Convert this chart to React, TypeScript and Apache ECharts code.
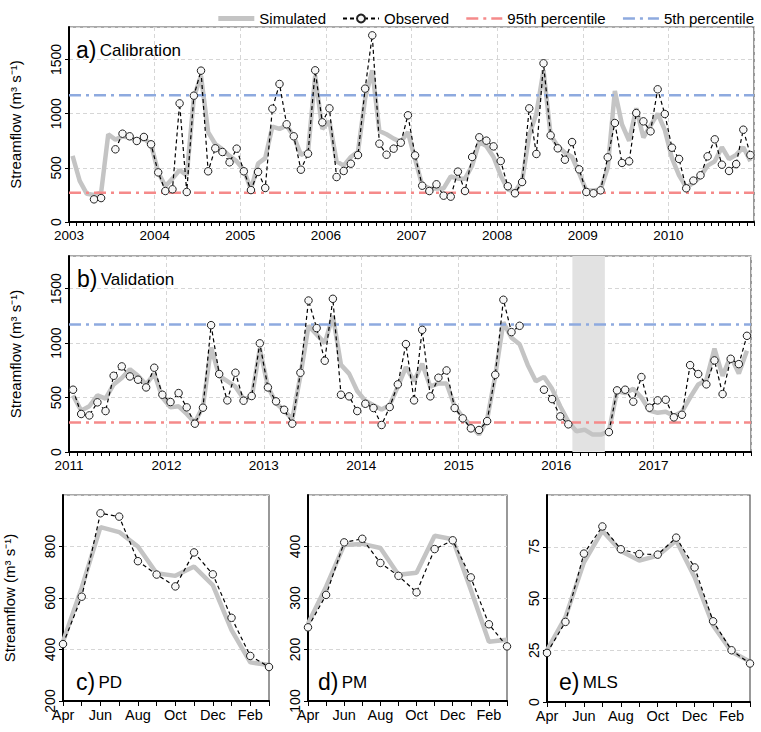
import React, { useEffect, useRef } from "react";
import * as echarts from "echarts";

// ---------- data ----------
const CAL_START_YEAR = 2003;
const VAL_START_YEAR = 2011;

const calObserved: (number | null)[] = [
  null, null, null, 209, 221, null, 671, 815, 791, 748, 785, 717,
  458, 286, 302, 1095, 277, 1166, 1397, 468, 680, 646, 551, 677,
  468, 295, 462, 314, 1046, 1274, 902, 791, 483, 631, 1400, 920,
  1049, 415, 471, 538, 618, 1231, 1723, 723, 621, 677, 732, 985,
  615, 335, 286, 348, 243, 234, 465, 286, 600, 782, 751, 698,
  563, 330, 265, 369, 1049, 628, 1465, 800, 680, 575, 738, 486,
  277, 265, 292, 597, 914, 545, 560, 1006, 929, 837, 1225, 997,
  686, 582, 311, 382, 431, 606, 763, 529, 471, 535, 852, 618,
];
const calSimulated: number[] = [
  610, 380, 260, 250, 270, 810, 760, 790, 780, 755, 770, 715,
  460, 330, 400, 480, 430, 1150, 1350, 830, 720, 670, 610, 560,
  480, 300, 540, 590, 880, 860, 890, 790, 620, 650, 1350, 860,
  930, 560, 520, 600, 650, 1140, 1400, 840, 810, 770, 740, 830,
  580, 340, 310, 310, 310, 420, 400, 400, 520, 740, 700, 600,
  430, 300, 280, 380, 800, 1000, 1400, 800, 700, 640, 600, 450,
  290, 290, 300, 500, 1210, 900, 750, 1050, 780, 890, 1000, 850,
  590, 430, 320, 360, 420, 520, 560, 690, 580, 620, 690, 560,
];
const valObserved: (number | null)[] = [
  572, 349, 336, 456, 376, 700, 786, 694, 664, 593, 774, 526,
  459, 541, 410, 260, 407, 1165, 716, 474, 728, 471, 514, 998,
  593, 465, 388, 260, 728, 1391, 1138, 838, 1407, 526, 511, 376,
  443, 404, 248, 413, 621, 991, 474, 1122, 511, 682, 749, 404,
  309, 217, 202, 284, 709, 1398, 1101, 1159, null, null, 572, 486,
  327, 254, null, null, null, null, 183, 566, 572, 462, 688, 407,
  474, 480, 318, 342, 798, 716, 621, 841, 532, 856, 807, 1067,
];
const valSimulated: number[] = [
  520, 380, 420, 520, 490, 620, 680, 760, 700, 620, 720, 500,
  410, 420, 350, 270, 420, 960, 700, 650, 600, 490, 500, 950,
  600, 450, 380, 300, 700, 1160, 1080, 1000, 1250, 800, 720, 560,
  470, 430, 390, 430, 600, 780, 650, 810, 600, 630, 630, 420,
  320, 240, 160, 300, 700, 1190, 1050, 990, 800, 650, 690, 580,
  420, 280, 190, 205, 160, 160, 190, 560, 540, 580, 500, 380,
  360, 370, 330, 370, 500, 620, 660, 950, 700, 880, 720, 930,
];
const P95 = 270;
const P5 = 1170;
const GAP_START_MONTH = 62; // Mar 2016
const GAP_END_MONTH = 66; // Jul 2016

const seasonMonths = ["Apr", "May", "Jun", "Jul", "Aug", "Sep", "Oct", "Nov", "Dec", "Jan", "Feb", "Mar"];
const pdObserved = [421, 605, 929, 916, 743, 691, 645, 777, 692, 523, 375, 332];
const pdSimulated = [430, 640, 875, 856, 800, 696, 686, 722, 650, 475, 350, 340];
const pmObserved = [243, 306, 408, 415, 368, 343, 311, 395, 412, 340, 249, 206];
const pmSimulated = [250, 322, 403, 405, 397, 345, 349, 421, 414, 316, 215, 219];
const mlsObserved = [23.7, 38.7, 71.7, 84.8, 73.8, 71.5, 71.2, 79.4, 65, 39, 25, 18.6];
const mlsSimulated = [25, 41, 67.5, 82.7, 73, 68.3, 70.7, 78, 60.3, 37, 24.3, 19.5];

// ---------- styles ----------
const FONT = "'Liberation Sans', Arial, Helvetica, sans-serif";
const SIM_COLOR = "#c4c4c4";
const RED = "#f58a8a";
const BLUE = "#8eaadf";
const GRID_LINE = { lineStyle: { color: "#d6d6d6", type: [4, 3] as any, width: 1 } };
const AXIS_LINE = { show: true, onZero: false, lineStyle: { color: "#000", width: 2 } };
const TICK_LABEL = { color: "#000", fontSize: 13.5, fontFamily: FONT };
const YNAME = "Streamflow (m³ s⁻¹)";

const monthly = (arr: (number | null)[]) =>
  arr.map((v, i) => [i + 0.5, v === null ? "-" : v]);

function yAxis(gridIndex: number, min: number, max: number, interval: number, withName: boolean) {
  return {
    type: "value",
    gridIndex,
    min,
    max,
    interval,
    axisLine: AXIS_LINE,
    axisTick: { show: true, length: 4, lineStyle: { color: "#000", width: 1 } },
    axisLabel: {
      ...TICK_LABEL,
      fontSize: 14,
      rotate: 90,
      margin: 6,
      showMaxLabel: false,
      formatter: (v: number) => String(v),
    },
    splitLine: { show: true, ...GRID_LINE },
    name: withName ? YNAME : "",
    nameLocation: "middle",
    nameGap: 46,
    nameTextStyle: { color: "#000", fontSize: 15, fontFamily: FONT },
  };
}

function yearAxis(gridIndex: number, startYear: number, nMonths: number) {
  return {
    type: "value",
    gridIndex,
    min: 0,
    max: nMonths,
    interval: 12,
    axisLine: AXIS_LINE,
    axisTick: { show: true, length: 4, lineStyle: { color: "#000", width: 1 } },
    minorTick: { show: true, splitNumber: 12, length: 4, lineStyle: { color: "#000", width: 1 } },
    axisLabel: {
      ...TICK_LABEL,
      margin: 6,
      showMaxLabel: false,
      formatter: (v: number) => String(startYear + Math.round(v / 12)),
    },
    splitLine: { show: true, ...GRID_LINE },
  };
}

function seasonAxis(gridIndex: number) {
  return {
    type: "category",
    gridIndex,
    data: seasonMonths,
    boundaryGap: false,
    axisLine: AXIS_LINE,
    axisTick: { show: true, interval: 0, length: 5, lineStyle: { color: "#000", width: 1 } },
    axisLabel: { ...TICK_LABEL, fontSize: 14.5, interval: 1, margin: 6 },
    splitLine: { show: false },
  };
}

function simSeries(name: string, idx: number, data: any[]) {
  return {
    name,
    type: "line",
    xAxisIndex: idx,
    yAxisIndex: idx,
    data,
    symbol: "none",
    z: 2,
    lineStyle: { color: SIM_COLOR, width: 4.5 },
    itemStyle: { color: SIM_COLOR },
  };
}

function obsSeries(idx: number, data: any[]) {
  return {
    name: "Observed",
    type: "line",
    xAxisIndex: idx,
    yAxisIndex: idx,
    data,
    connectNulls: false,
    symbol: "circle",
    symbolSize: 7.5,
    z: 5,
    lineStyle: { color: "#000", width: 1.2, type: [4, 3] },
    itemStyle: { color: "#f7f7f7", borderColor: "#222", borderWidth: 1 },
  };
}

function pctSeries(name: string, idx: number, value: number, nMonths: number, color: string) {
  return {
    name,
    type: "line",
    xAxisIndex: idx,
    yAxisIndex: idx,
    data: [
      [0, value],
      [nMonths, value],
    ],
    symbol: "none",
    z: 3,
    lineStyle: { color, width: 2.5, type: [12, 5, 3, 5] },
    itemStyle: { color },
  };
}

function panelLabel(x: number, y: number, letter: string, title: string) {
  return {
    type: "text",
    x,
    y,
    z: 10,
    style: {
      text: `{a|${letter})} {b|${title}}`,
      verticalAlign: "middle",
      rich: {
        a: { fontSize: 23, fontFamily: FONT, fill: "#000" },
        b: { fontSize: 17, fontFamily: FONT, fill: "#000" },
      },
    },
  };
}

const hiddenSymbol = { opacity: 0, color: "transparent", borderWidth: 0 };

export default function App() {
  const ref = useRef<HTMLDivElement>(null);
  useEffect(() => {
    if (!ref.current) return;
    const chart = echarts.init(ref.current, undefined, { renderer: "svg" });
    const nCal = calSimulated.length;
    const nVal = valSimulated.length;
    const gridBox = { show: true, borderColor: "#555", borderWidth: 1.2, containLabel: false };
    const option: any = {
      animation: false,
      backgroundColor: "#fff",
      textStyle: { fontFamily: FONT },
      legend: {
        top: 6,
        right: 2,
        itemWidth: 36,
        itemHeight: 10,
        itemGap: 16,
        textStyle: { fontSize: 15, fontFamily: FONT, color: "#000" },
        data: [
          { name: "Simulated", itemStyle: hiddenSymbol, lineStyle: { width: 5, color: SIM_COLOR } },
          { name: "Observed" },
          { name: "95th percentile", itemStyle: hiddenSymbol, lineStyle: { width: 2.5 } },
          { name: "5th percentile", itemStyle: hiddenSymbol, lineStyle: { width: 2.5 } },
        ],
      },
      grid: [
        { left: 66, top: 27, width: 688, height: 195, ...gridBox },
        { left: 63, top: 256, width: 688, height: 196, ...gridBox },
        { left: 63, top: 495, width: 206, height: 206, ...gridBox },
        { left: 308, top: 495, width: 199, height: 206, ...gridBox },
        { left: 547, top: 495, width: 203, height: 207, ...gridBox },
      ],
      xAxis: [
        yearAxis(0, CAL_START_YEAR, nCal),
        yearAxis(1, VAL_START_YEAR, nVal),
        seasonAxis(2),
        seasonAxis(3),
        seasonAxis(4),
      ],
      yAxis: [
        yAxis(0, 0, 1800, 500, true),
        yAxis(1, 0, 1800, 500, true),
        yAxis(2, 200, 1000, 200, true),
        yAxis(3, 100, 500, 100, false),
        yAxis(4, 0, 100, 25, false),
      ],
      series: [
        simSeries("Simulated", 0, monthly(calSimulated)),
        pctSeries("95th percentile", 0, P95, nCal, RED),
        pctSeries("5th percentile", 0, P5, nCal, BLUE),
        obsSeries(0, monthly(calObserved)),
        {
          ...simSeries("Simulated", 1, monthly(valSimulated)),
          markArea: {
            silent: true,
            itemStyle: { color: "#e2e2e2" },
            data: [[{ xAxis: GAP_START_MONTH }, { xAxis: GAP_END_MONTH }]],
          },
        },
        pctSeries("95th percentile", 1, P95, nVal, RED),
        pctSeries("5th percentile", 1, P5, nVal, BLUE),
        obsSeries(1, monthly(valObserved)),
        simSeries("Simulated", 2, pdSimulated),
        obsSeries(2, pdObserved),
        simSeries("Simulated", 3, pmSimulated),
        obsSeries(3, pmObserved),
        simSeries("Simulated", 4, mlsSimulated),
        obsSeries(4, mlsObserved),
      ],
      graphic: [
        panelLabel(76, 50, "a", "Calibration"),
        panelLabel(77, 279, "b", "Validation"),
        panelLabel(76, 682, "c", "PD"),
        panelLabel(318, 682, "d", "PM"),
        panelLabel(559, 682, "e", "MLS"),
      ],
    };
    chart.setOption(option);
    return () => chart.dispose();
  }, []);
  return (
    <div
      ref={ref}
      style={{ position: "fixed", left: 0, top: 0, width: 761, height: 732, background: "#fff" }}
    />
  );
}
